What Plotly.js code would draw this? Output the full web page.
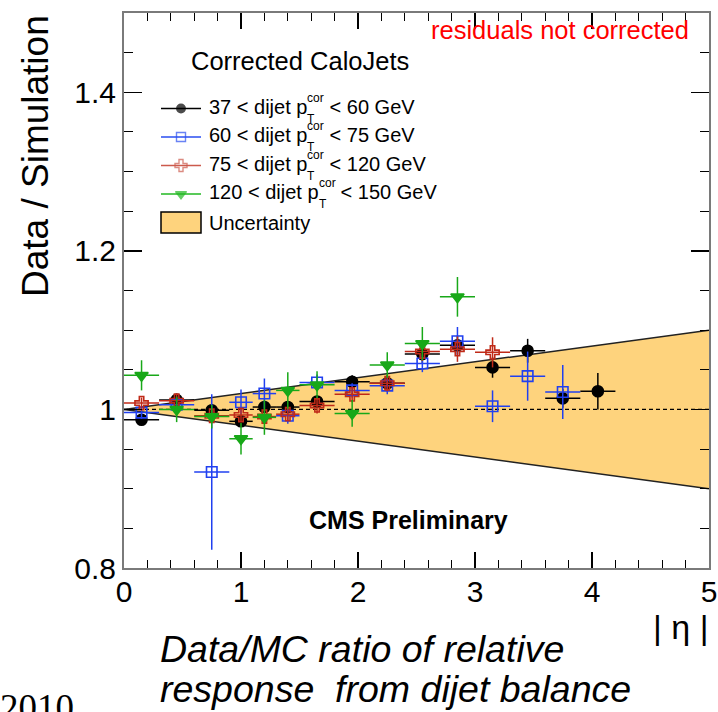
<!DOCTYPE html>
<html><head><meta charset="utf-8">
<script src="https://cdn.plot.ly/plotly-3.0.1.min.js"></script>
<style>html,body{margin:0;padding:0;background:#fff;} #chart{width:718px;height:712px;}</style>
</head><body><div id="chart"></div>
<script>
// ---------------- data ----------------
const etaCenters    = [0.15,0.45,0.75,1.0,1.2,1.4,1.65,1.95,2.25,2.55,2.85,3.15,3.45,3.75,4.05];
const etaHalfWidths = [0.15,0.15,0.15,0.1,0.1,0.1,0.15,0.15,0.15,0.15,0.15,0.15,0.15,0.15,0.15];

const ratio37to60 = [0.987,1.012,0.999,0.985,1.003,1.003,1.010,1.035,1.033,1.070,1.081,1.053,1.074,1.014,1.023];
const err37to60   = [0.006,0.008,0.007,0.007,0.007,0.007,0.008,0.008,0.010,0.012,0.012,0.013,0.015,0.012,0.023];

const ratio60to75 = [0.996,1.006,0.921,1.009,1.020,0.992,1.034,1.024,1.030,1.058,1.086,1.004,1.042,1.022];
const err60to75   = [0.008,0.010,0.098,0.016,0.019,0.010,0.010,0.009,0.011,0.011,0.018,0.020,0.031,0.034];

const ratio75to120 = [1.008,1.011,0.992,0.993,0.991,0.994,1.005,1.019,1.033,1.073,1.076,1.072];
const err75to120   = [0.007,0.008,0.008,0.008,0.008,0.008,0.010,0.010,0.010,0.012,0.016,0.019];

const ratio120to150 = [1.043,1.000,0.991,0.963,0.990,1.024,1.031,0.995,1.056,1.083,1.142];
const err120to150   = [0.019,0.016,0.015,0.020,0.022,0.023,0.017,0.017,0.016,0.021,0.025];

const bandEta       = [0, 5];
const bandHalfWidth = [0, 0.1];
const unityLine     = [1, 1];

const seriesLabels = [
  ["37 < dijet p", " < 60 GeV"],
  ["60 < dijet p", " < 75 GeV"],
  ["75 < dijet p", " < 120 GeV"],
  ["120 < dijet p", " < 150 GeV"]
];
const yTickVals  = [0.8, 1, 1.2, 1.4];
const yTickText  = ["0.8", "1", "1.2", "1.4"];

// ---------------- styling / layout helpers ----------------
const FONT = "Liberation Sans, Arial, sans-serif";
const COL = {black:'#000000', blue:'#2040f0', red:'#c02a18', green:'#18a818'};
const LEGCOL = {black:'#000000', blue:'#2a4ef0', red:'#cc5a4c', green:'#22b822'};
const BAND = 'rgb(254,211,125)';
const PL = 124, PR = 709, PT = 13, PB = 568;
const px = x => (x - PL) / (PR - PL);
const py = y => (PB - y) / (PB - PT);

function series(y, err, symbol, color, size){
  const n = y.length;
  return {type:'scatter', mode:'markers', x: etaCenters.slice(0,n), y: y, showlegend:false,
    error_x:{type:'data', array: etaHalfWidths.slice(0,n), color: color, thickness:1.5, width:0},
    error_y:{type:'data', array: err, color: color, thickness:1.5, width:0},
    marker:{symbol: symbol, color: color, size: size, line:{color: color, width:1.6}},
    hoverinfo:'skip', xaxis:'x', yaxis:'y'};
}

const bandUp  = bandEta.map((e,i)=> 1 + bandHalfWidth[i]);
const bandLow = bandEta.map((e,i)=> 1 - bandHalfWidth[i]);

const traces = [
  {type:'scatter', mode:'lines', x: bandEta.concat(bandEta.slice().reverse()),
   y: bandUp.concat(bandLow.slice().reverse()), fill:'toself', fillcolor: BAND,
   line:{width:0, color:BAND}, showlegend:false, hoverinfo:'skip'},
  {type:'scatter', mode:'lines', x: bandEta, y: bandUp, line:{color:'#222', width:1.5}, showlegend:false, hoverinfo:'skip'},
  {type:'scatter', mode:'lines', x: bandEta, y: bandLow, line:{color:'#222', width:1.5}, showlegend:false, hoverinfo:'skip'},
  {type:'scatter', mode:'lines', x: bandEta, y: unityLine, line:{color:'#000', width:1.3, dash:'4px,3px'}, showlegend:false, hoverinfo:'skip'},
  series(ratio37to60, err37to60, 'circle', COL.black, 11),
  series(ratio60to75, err60to75, 'square-open', COL.blue, 10.5),
  series(ratio75to120, err75to120, 'cross-open', COL.red, 11),
  series(ratio120to150, err120to150, 'triangle-down', COL.green, 11.5)
];

// ---------------- custom legend (page-pixel overlay axes) ----------------
const legRows = [108.5, 137, 165.5, 194];
const legSym = [['circle', LEGCOL.black, 8.5], ['square-open', LEGCOL.blue, 9], ['cross-open', LEGCOL.red, 10], ['triangle-down', LEGCOL.green, 9.5]];
const legX0 = 161, legX1 = 201, legTextX = 208;
legRows.forEach((r,i)=>{
  traces.push({type:'scatter', mode:'lines+markers', x:[legX0,(legX0+legX1)/2,legX1], y:[r,r,r],
    xaxis:'x2', yaxis:'y2', showlegend:false, hoverinfo:'skip',
    line:{color: legSym[i][1], width:1.3},
    marker:{symbol: legSym[i][0], color: legSym[i][1], size:[0, legSym[i][2], 0], line:{color:legSym[i][1], width:1.4}}});
});

const cv = document.createElement('canvas').getContext('2d');
function tw(t, size){ cv.font = size + "px 'Liberation Sans'"; return cv.measureText(t).width; }

const annotations = [];
const LS = 20, SS = 12;
seriesLabels.forEach((lab,i)=>{
  const r = legRows[i];
  const w0 = tw(lab[0], LS);
  const wsup = Math.max(tw('cor', SS), tw('T', SS));
  const base = {xref:'x2', yref:'y2', xanchor:'left', yanchor:'middle', showarrow:false, borderpad:0};
  annotations.push(Object.assign({}, base, {x: legTextX, y: r-2, text: lab[0], font:{family:FONT, size:LS, color:'#000'}}));
  annotations.push(Object.assign({}, base, {x: legTextX + w0, y: r-11, text: 'cor', font:{family:FONT, size:SS, color:'#000'}}));
  annotations.push(Object.assign({}, base, {x: legTextX + w0, y: r+10, text: 'T', font:{family:FONT, size:SS, color:'#000'}}));
  annotations.push(Object.assign({}, base, {x: legTextX + w0 + wsup, y: r-2, text: lab[1], font:{family:FONT, size:LS, color:'#000'}}));
});
annotations.push({xref:'x2', yref:'y2', x: legTextX, y: 222.5, xanchor:'left', yanchor:'middle', showarrow:false, borderpad:0,
  text:'Uncertainty', font:{family:FONT, size:LS, color:'#000'}});

annotations.push({xref:'paper', yref:'paper', x: px(189), y: py(61), xanchor:'left', yanchor:'middle', showarrow:false,
  text:'Corrected CaloJets', font:{family:FONT, size:25.5, color:'#000'}});
annotations.push({xref:'paper', yref:'paper', x: px(691), y: py(30), xanchor:'right', yanchor:'middle', showarrow:false,
  text:'residuals not corrected', font:{family:FONT, size:25.5, color:'#ff0000'}});
annotations.push({xref:'paper', yref:'paper', x: px(307), y: py(520), xanchor:'left', yanchor:'middle', showarrow:false,
  text:'<b>CMS Preliminary</b>', font:{family:FONT, size:25, color:'#000'}});
annotations.push({xref:'paper', yref:'paper', x: px(35), y: py(156), xanchor:'center', yanchor:'middle', showarrow:false, textangle:-90,
  text:'Data / Simulation', font:{family:FONT, size:37, color:'#000'}});
annotations.push({xref:'paper', yref:'paper', x: px(710), y: py(627), xanchor:'right', yanchor:'middle', showarrow:false,
  text:'| η |', font:{family:FONT, size:34, color:'#000'}});
annotations.push({xref:'paper', yref:'paper', x: px(158), y: py(649), xanchor:'left', yanchor:'middle', showarrow:false,
  text:'<i>Data/MC ratio of relative</i>', font:{family:FONT, size:37.5, color:'#000'}});
annotations.push({xref:'paper', yref:'paper', x: px(158), y: py(689), xanchor:'left', yanchor:'middle', showarrow:false,
  text:'<i>response\u00a0 from dijet balance</i>', font:{family:FONT, size:37.5, color:'#000'}});
annotations.push({xref:'paper', yref:'paper', x: px(-2), y: py(707), xanchor:'left', yanchor:'middle', showarrow:false,
  text:'2010', font:{family:'Liberation Serif, Times New Roman, serif', size:37, color:'#000'}});

const shapes = [
  {type:'rect', xref:'x2', yref:'y2', x0: legX0, x1: legX1, y0: 212, y1: 233, fillcolor: BAND, line:{color:'#000', width:1.5}, layer:'above'}
];

const axisCommon = {showgrid:false, zeroline:false, showline:true, linecolor:'#7a7a7a', linewidth:2,
  mirror:'allticks', ticks:'inside', tickcolor:'#000', tickwidth:1.3,
  tickfont:{family:FONT, size:30, color:'#000'}};

const layout = {
  width:718, height:712, paper_bgcolor:'#fff', plot_bgcolor:'#fff',
  margin:{l:PL, r:718-PR, t:PT, b:712-PB, pad:0},
  showlegend:false,
  xaxis: Object.assign({}, axisCommon, {range:[0,5], tick0:0, dtick:1, ticklen:16, ticklabelstandoff:-4,
    minor:{dtick:0.2, tick0:0, ticklen:8, ticks:'inside', tickcolor:'#000', tickwidth:1.1}}),
  yaxis: Object.assign({}, axisCommon, {range:[0.8,1.5], tickmode:'array', tickvals:yTickVals, ticktext:yTickText, ticklen:18,
    minor:{dtick:0.05, tick0:0, ticklen:9, ticks:'inside', tickcolor:'#000', tickwidth:1.1}}),
  xaxis2: {overlaying:'x', range:[PL, PR], visible:false, fixedrange:true},
  yaxis2: {overlaying:'y', range:[PB, PT], visible:false, fixedrange:true},
  annotations: annotations,
  shapes: shapes
};

Plotly.newPlot('chart', traces, layout, {staticPlot:true});
</script></body></html>
